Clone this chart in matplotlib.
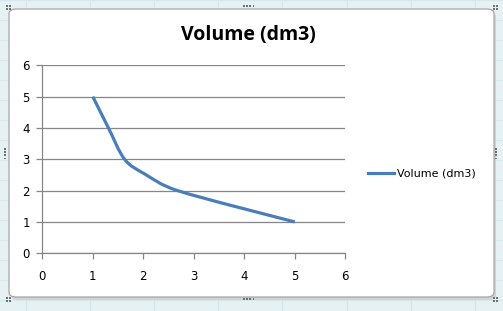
import matplotlib
matplotlib.use("Agg")
import matplotlib.pyplot as plt
from matplotlib.path import Path
from matplotlib.patches import PathPatch, FancyBboxPatch, Rectangle
from matplotlib.lines import Line2D
import numpy as np

# ---- data ----
title = "Volume (dm3)"
series_name = "Volume (dm3)"
pressure = [1.0, 1.31, 1.63, 2.03, 2.68, 5.0]
volume = [5.0, 4.0, 3.0, 2.53, 2.0, 1.0]
x_ticks = [0, 1, 2, 3, 4, 5, 6]
y_ticks = [0, 1, 2, 3, 4, 5, 6]

W, H = 503, 311
fig = plt.figure(figsize=(W / 100, H / 100), dpi=100)
fig.patch.set_facecolor("#e6f1f3")

def fx(px):
    return px / W

def fy(py):
    return 1 - py / H

# faint worksheet cell lines in background
for cx in [26, 90, 154, 218, 282, 347, 411, 475]:
    fig.add_artist(Line2D([fx(cx), fx(cx)], [0, 1], color="#d2e5ea", lw=0.8, zorder=0))
for cy in range(0, 320, 20):
    fig.add_artist(Line2D([0, 1], [fy(cy), fy(cy)], color="#d6e8ec", lw=0.8, zorder=0))

# shadow
fig.add_artist(FancyBboxPatch((fx(11), fy(300)), fx(485), fy(12) - fy(300),
                              boxstyle="round,pad=0,rounding_size=0.015",
                              transform=fig.transFigure, facecolor="#c8ccce",
                              edgecolor="none", zorder=1, alpha=0.8))
# chart area frame
fig.add_artist(FancyBboxPatch((fx(9), fy(297)), fx(485), fy(9) - fy(297),
                              boxstyle="round,pad=0,rounding_size=0.015",
                              transform=fig.transFigure, facecolor="white",
                              edgecolor="#a6a6a6", lw=0.9, zorder=2))

# handle dots
def dots(cx, cy, horiz=True, corner=False):
    if corner:
        pts = [(cx, cy), (cx + 3, cy), (cx, cy + 3), (cx + 3, cy + 3)]
    elif horiz:
        pts = [(cx + i * 3.2, cy) for i in range(4)]
    else:
        pts = [(cx, cy + i * 3.2) for i in range(4)]
    for (px, py) in pts:
        fig.add_artist(Rectangle((fx(px), fy(py + 1.8)), 1.8 / W, 1.8 / H,
                                 transform=fig.transFigure, facecolor="#707070",
                                 edgecolor="none", zorder=5))

dots(6, 5, corner=True)
dots(493, 5, corner=True)
dots(6, 297, corner=True)
dots(493, 297, corner=True)
dots(243, 5)
dots(243, 298)
dots(4, 148, horiz=False)
dots(495, 148, horiz=False)

# axes
left, right, top, bottom = 42.3, 345.3, 65.3, 253.3
ax = fig.add_axes([fx(left), fy(bottom), (right - left) / W, (bottom - top) / H], zorder=3)
ax.set_facecolor("none")
ax.set_xlim(0, 6)
ax.set_ylim(0, 6)
ax.set_xticks(x_ticks)
ax.set_yticks(y_ticks)
ax.set_xticklabels([str(v) for v in x_ticks])
ax.set_yticklabels([str(v) for v in y_ticks])
for s in ["top", "right"]:
    ax.spines[s].set_visible(False)
for s in ["left", "bottom"]:
    ax.spines[s].set_color("#868686")
    ax.spines[s].set_linewidth(0.9)
ax.yaxis.grid(True, color="#868686", lw=0.9)
ax.set_axisbelow(True)
ax.tick_params(axis="both", direction="out", length=4, width=0.9, color="#868686",
               labelsize=8.5, labelcolor="#000000")
ax.tick_params(axis="y", pad=5)
ax.tick_params(axis="x", pad=8)
for lab in ax.get_xticklabels() + ax.get_yticklabels():
    lab.set_fontfamily("DejaVu Sans")

# Excel-like smoothed line (cubic Bezier through the points), handles computed
# in screen-proportional space and capped at half the segment length
sx = (right - left) / 6.0
sy = (bottom - top) / 6.0
P = np.column_stack([np.array(pressure) * sx, np.array(volume) * sy])
n = len(P)
verts = [tuple(P[0])]
codes = [Path.MOVETO]
for i in range(n - 1):
    p0 = P[max(i - 1, 0)]
    p1 = P[i]
    p2 = P[i + 1]
    p3 = P[min(i + 2, n - 1)]
    d12 = np.linalg.norm(p2 - p1)
    h1 = (p2 - p0) / 6.0
    h2 = (p3 - p1) / 6.0
    if np.linalg.norm(h1) > d12 / 2:
        h1 = h1 / np.linalg.norm(h1) * d12 / 2
    if np.linalg.norm(h2) > d12 / 2:
        h2 = h2 / np.linalg.norm(h2) * d12 / 2
    c1 = p1 + h1
    c2 = p2 - h2
    verts += [tuple(c1), tuple(c2), tuple(p2)]
    codes += [Path.CURVE4] * 3
verts = [(vx / sx, vy / sy) for vx, vy in verts]
line_color = "#4a7ebb"
patch = PathPatch(Path(verts, codes), facecolor="none", edgecolor=line_color,
                  lw=2.3, capstyle="butt", joinstyle="round", zorder=4, clip_on=False)
ax.add_patch(patch)

# title
fig.text(fx(248), fy(35), title, ha="center", va="center", fontsize=14,
         fontweight="bold", family="Open Sans", color="#000000", zorder=6)

# legend
handle = Line2D([], [], color=line_color, lw=2.3)
fig.legend([handle], [series_name], loc="center left",
           bbox_to_anchor=(fx(368), fy(174)), frameon=False,
           handlelength=2.3, handletextpad=0.3, borderpad=0, borderaxespad=0,
           prop={"family": "DejaVu Sans", "size": 8.0})

fig.savefig("out.png", dpi=100, facecolor=fig.get_facecolor())
